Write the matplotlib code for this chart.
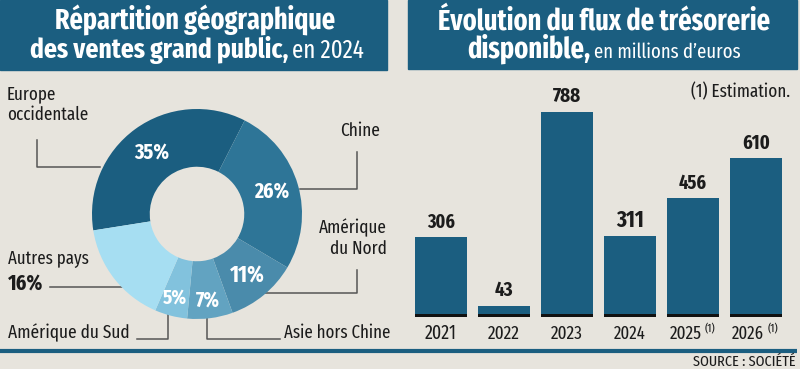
import matplotlib
matplotlib.use("Agg")
import matplotlib.pyplot as plt
from matplotlib import font_manager
from matplotlib.patches import Rectangle
import numpy as np

# pick a condensed face if one is installed
installed = {f.name for f in font_manager.fontManager.ttflist}
candidates = ["Fira Sans Extra Condensed", "Roboto Condensed", "PT Sans Narrow",
              "Fira Sans Condensed", "Liberation Sans Narrow", "Roboto"]
face = next((c for c in candidates if c in installed), "DejaVu Sans")
plt.rcParams["font.family"] = [face, "DejaVu Sans"]

# donut data
regions = ["Europe occidentale", "Chine", "Amérique du Nord", "Asie hors Chine",
           "Amérique du Sud", "Autres pays"]
shares = [35, 26, 11, 7, 5, 16]
share_colors = ["#1b5e80", "#2e7597", "#4a8bab", "#62a3c1", "#82c2dd", "#a6def2"]
label_radius = [0.73, 0.74, 0.76, 0.83, 0.83, 0.75]

# bar data
years = ["2021", "2022", "2023", "2024", "2025", "2026"]
cash_flow = [306, 43, 788, 311, 456, 610]
estimated = [False, False, False, False, True, True]

bg = "#e7e4dd"
navy = "#1b5e80"
ink = "#1c1c1c"
W, H = 800, 369

fig = plt.figure(figsize=(W / 100, H / 100), dpi=100)
fig.patch.set_facecolor(bg)
renderer = fig.canvas.get_renderer()


def fit(t, width):
    # scale the font so the text is as wide as in the reference
    w = t.get_window_extent(renderer).width
    t.set_fontsize(t.get_fontsize() * width / w)
    return t


# overlay axes in pixel coords for boxes, lines and text
ov = fig.add_axes([0, 0, 1, 1])
ov.set_xlim(0, W)
ov.set_ylim(H, 0)
ov.axis("off")

ov.add_patch(Rectangle((0, 0), 387, 70, color=navy))
ov.add_patch(Rectangle((408, 0), 389, 69, color=navy))
ov.plot([0, 797], [351, 351], color=navy, lw=3, solid_capstyle="butt")


def mixed_line(x0, y, bold_txt, reg_txt, bw, rw):
    t1 = ov.text(x0, y, bold_txt, fontsize=18, fontweight="bold", color="white",
                 va="baseline", ha="left")
    t2 = ov.text(x0 + bw + 4, y, reg_txt, fontsize=13, color="white", va="baseline",
                 ha="left")
    fit(t1, bw)
    fit(t2, rw)


t = ov.text(195, 30, "Répartition géographique", fontsize=18, fontweight="bold",
            color="white", ha="center", va="baseline")
fit(t, 280)
mixed_line(30, 58, "des ventes grand public,", "en 2024", 258, 72)
t = ov.text(604, 30, "Évolution du flux de trésorerie", fontsize=18, fontweight="bold",
            color="white", ha="center", va="baseline")
fit(t, 332)
mixed_line(467, 58, "disponible,", "en millions d’euros", 123, 148)

# leader lines for the donut
lc = "#555555"
lw = 1.1
ov.plot([37, 37, 100], [140, 167, 167], color=lc, lw=lw)
ov.plot([357, 357, 300], [152, 189, 189], color=lc, lw=lw)
ov.plot([357, 357, 262], [270, 293, 293], color=lc, lw=lw)
ov.plot([207, 207, 280], [317, 339, 339], color=lc, lw=lw)
ov.plot([168, 168, 137], [313, 339, 339], color=lc, lw=lw)
ov.plot([50, 122], [287, 287], color=lc, lw=lw)

fs = 13
fit(ov.text(7, 104, "Europe\noccidentale", fontsize=fs, color=ink, ha="left", va="center",
            linespacing=1.2), 81)
fit(ov.text(380, 131, regions[1], fontsize=fs, color=ink, ha="right", va="center"), 40)
fit(ov.text(387, 238, "Amérique\ndu Nord", fontsize=fs, color=ink, ha="right",
            va="center", linespacing=1.2), 68)
fit(ov.text(390, 333, regions[3], fontsize=fs, color=ink, ha="right", va="center"), 106)
fit(ov.text(8, 333, regions[4], fontsize=fs, color=ink, ha="left", va="center"), 122)
fit(ov.text(8, 258, regions[5], fontsize=fs, color=ink, ha="left", va="center"), 81)
fit(ov.text(8, 283, f"{shares[5]}%", fontsize=14, fontweight="bold", color=ink,
            ha="left", va="center"), 35)

fit(ov.text(790, 92, "(1) Estimation.", fontsize=12.5, color=ink, ha="right",
            va="center"), 99)
fit(ov.text(796, 362, "SOURCE : SOCIÉTÉ", fontsize=8.5, color=ink, ha="right",
            va="center"), 102)

# donut
cx, cy, r = 197, 214, 105
pie_ax = fig.add_axes([(cx - r) / W, (H - cy - r) / H, 2 * r / W, 2 * r / H])
wedges, _ = pie_ax.pie(shares, colors=share_colors, startangle=189, counterclock=False,
                       wedgeprops=dict(width=0.55, edgecolor="none"), radius=1)
pie_ax.set_xlim(-1, 1)
pie_ax.set_ylim(-1, 1)
pie_ax.axis("off")
for i, w in enumerate(wedges):
    if i == 5:
        continue
    ang = np.deg2rad((w.theta1 + w.theta2) / 2)
    rr = label_radius[i]
    t = pie_ax.text(rr * np.cos(ang), rr * np.sin(ang), f"{shares[i]}%", fontsize=14,
                    fontweight="bold", color="white", ha="center", va="center")
    fit(t, 35 if shares[i] >= 10 else 24)

# bars
bx0, bx1 = 409.5, 787.5
base_y, top_y = 317, 317 - 800 * (317 - 112) / 788
bar_ax = fig.add_axes([bx0 / W, (H - base_y) / H, (bx1 - bx0) / W, (base_y - top_y) / H])
bar_ax.set_facecolor("none")
x = np.arange(len(years))
bar_ax.bar(x, cash_flow, width=0.84, color=navy)
bar_ax.bar(x, 12, width=0.84, color="#111111")
bar_ax.set_xlim(-0.5, len(years) - 0.5)
bar_ax.set_ylim(0, 800)
bar_ax.axis("off")
for i, v in enumerate(cash_flow):
    t = bar_ax.annotate(str(v), (i, v), xytext=(0, 11), textcoords="offset points",
                        ha="center", va="center", fontsize=15, fontweight="bold", color=ink)
    fit(t, 9.3 * len(str(v)))
    dx = -5.5 if estimated[i] else 0
    t = bar_ax.annotate(years[i], (i, 0), xytext=(dx, -12), textcoords="offset points",
                        ha="center", va="center", fontsize=14, color=ink)
    fit(t, 32)
    if estimated[i]:
        bar_ax.annotate("(1)", (i, 0), xytext=(12.5, -8.5), textcoords="offset points",
                        ha="center", va="center", fontsize=8.5, color=ink)

fig.savefig("out.png", dpi=100, facecolor=bg)
